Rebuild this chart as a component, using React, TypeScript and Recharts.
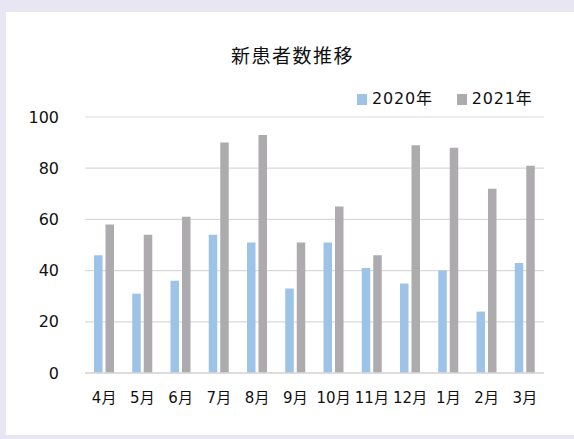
import React from "react";
import { BarChart, Bar, XAxis, YAxis, CartesianGrid } from "recharts";

const months = ["4月", "5月", "6月", "7月", "8月", "9月", "10月", "11月", "12月", "1月", "2月", "3月"];
const values2020 = [46, 31, 36, 54, 51, 33, 51, 41, 35, 40, 24, 43];
const values2021 = [58, 54, 61, 90, 93, 51, 65, 46, 89, 88, 72, 81];
const yTicks = [0, 20, 40, 60, 80, 100];
const seriesNames = ["2020年", "2021年"];
const title = "新患者数推移";

const data = months.map((m, i) => ({ month: m, a: values2020[i], b: values2021[i] }));

const FONT = "'DejaVu Sans', 'Noto Sans CJK JP', sans-serif";
const BLUE = "#9dc3e6";
const GRAY = "#adabae";
const TEXT = "#111111";

const LegendContent = () => (
  <div style={{ display: "flex", alignItems: "center", fontFamily: FONT, fontSize: 16, color: TEXT, lineHeight: "20px" }}>
    {[BLUE, GRAY].map((c, i) => (
      <div key={i} style={{ display: "flex", alignItems: "center", marginRight: i === 0 ? 24 : 0 }}>
        <span style={{ display: "inline-block", width: 10, height: 11, background: c, marginRight: 5 }} />
        <span style={{ letterSpacing: 0.8 }}>{seriesNames[i]}</span>
      </div>
    ))}
  </div>
);

export default function App() {
  return (
    <div style={{ position: "absolute", left: 0, top: 0, width: 574, height: 439, background: "#e7e6f2", overflow: "hidden" }}>
      <div style={{ position: "absolute", left: 6, top: 12, width: 568, height: 423, background: "#ffffff" }} />
      <div
        style={{
          position: "absolute",
          left: 0,
          top: 42,
          width: 585,
          textAlign: "center",
          fontFamily: FONT,
          fontSize: 19,
          letterSpacing: 1.5,
          color: TEXT,
          lineHeight: "28px",
        }}
      >
        {title}
      </div>
      <div style={{ position: "absolute", left: 357, top: 89 }}>
        <LegendContent />
      </div>
      <div style={{ position: "absolute", left: 0, top: 0 }}>
        <BarChart
          width={574}
          height={439}
          data={data}
          margin={{ top: 117, right: 30, bottom: 36, left: 0 }}
          barSize={8.5}
          barGap={3}
        >
          <CartesianGrid vertical={false} stroke="#d9d9d9" strokeWidth={1.2} />
          <XAxis
            dataKey="month"
            height={30}
            axisLine={{ stroke: "#d9d9d9", strokeWidth: 1.5 }}
            tickLine={false}
            tickMargin={13}
            interval={0}
            tick={{ fontFamily: FONT, fontSize: 15, fill: TEXT }}
          />
          <YAxis
            width={85}
            domain={[0, 100]}
            ticks={yTicks}
            axisLine={false}
            tickLine={false}
            tickMargin={20}
            tick={{ fontFamily: FONT, fontSize: 16, fill: TEXT }}
          />
          <Bar dataKey="a" name={seriesNames[0]} fill={BLUE} isAnimationActive={false} />
          <Bar dataKey="b" name={seriesNames[1]} fill={GRAY} isAnimationActive={false} />
        </BarChart>
      </div>
    </div>
  );
}
